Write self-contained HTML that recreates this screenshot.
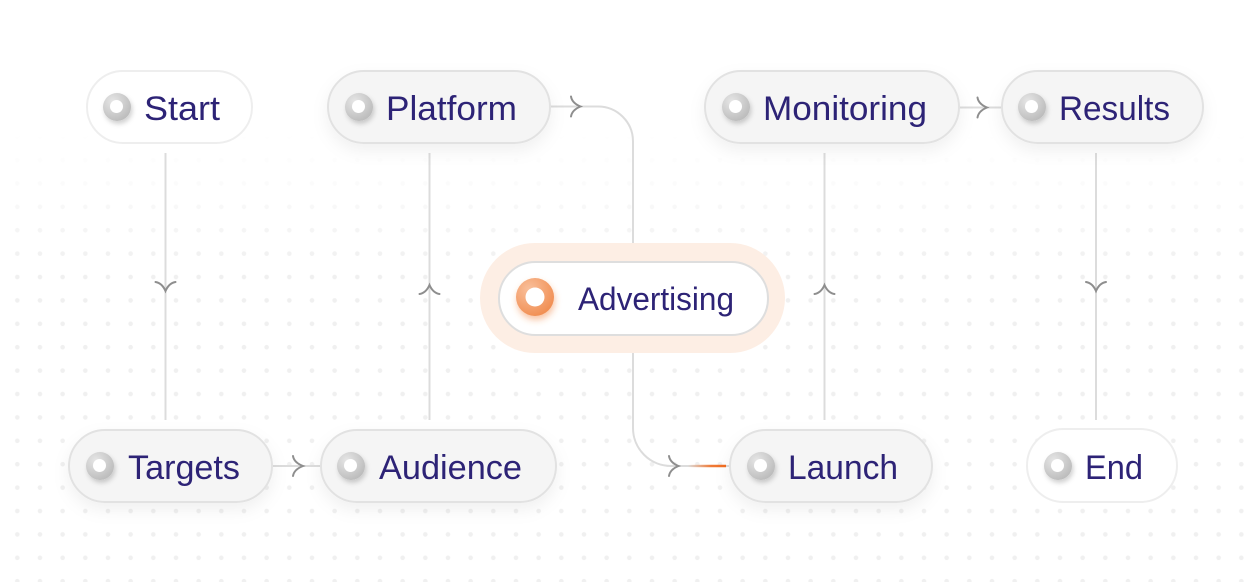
<!DOCTYPE html>
<html>
<head>
<meta charset="utf-8">
<style>
  html, body { margin:0; padding:0; background:#ffffff; }
  body { width:1257px; height:582px; overflow:hidden; }
  svg { display:block; }
  text { font-family: "Liberation Sans", "DejaVu Sans", sans-serif; fill:#2d2376; }
</style>
</head>
<body>
<svg width="1257" height="582" viewBox="0 0 1257 582" xmlns="http://www.w3.org/2000/svg">
  <defs>
    <pattern id="dots" x="0" y="0" width="22.667" height="23.4" patternUnits="userSpaceOnUse">
      <circle cx="17.3" cy="19.6" r="2.3" fill="#f0f0f0"/>
    </pattern>
    <linearGradient id="fadeV" x1="0" y1="0" x2="0" y2="1" gradientUnits="objectBoundingBox">
      <stop offset="0" stop-color="#fff" stop-opacity="0"/>
      <stop offset="0.12" stop-color="#fff" stop-opacity="0.25"/>
      <stop offset="0.3" stop-color="#fff" stop-opacity="1"/>
      <stop offset="1" stop-color="#fff" stop-opacity="1"/>
    </linearGradient>
    <mask id="dotMask" maskUnits="userSpaceOnUse" x="0" y="0" width="1257" height="582">
      <rect x="0" y="130" width="1257" height="452" fill="url(#fadeV)"/>
    </mask>
    <filter id="pillShadow" x="-20%" y="-40%" width="140%" height="200%">
      <feDropShadow dx="0" dy="7" stdDeviation="8" flood-color="#000" flood-opacity="0.06"/>
    </filter>
    <filter id="iconShadow" x="-60%" y="-60%" width="220%" height="220%">
      <feDropShadow dx="1.5" dy="3" stdDeviation="2.5" flood-color="#000" flood-opacity="0.18"/>
    </filter>
    <filter id="orangeShadow" x="-80%" y="-80%" width="260%" height="260%">
      <feDropShadow dx="1" dy="4" stdDeviation="3.5" flood-color="#f07a35" flood-opacity="0.45"/>
    </filter>
    <radialGradient id="grayIcon" cx="0.35" cy="0.3" r="0.8">
      <stop offset="0" stop-color="#e6e6e6"/>
      <stop offset="1" stop-color="#b8b8b8"/>
    </radialGradient>
    <radialGradient id="orangeIcon" cx="0.35" cy="0.3" r="0.8">
      <stop offset="0" stop-color="#f9c09c"/>
      <stop offset="1" stop-color="#f08a4c"/>
    </radialGradient>
    <linearGradient id="orangeLine" x1="688" y1="0" x2="726" y2="0" gradientUnits="userSpaceOnUse">
      <stop offset="0" stop-color="#f26b1d" stop-opacity="0"/>
      <stop offset="0.6" stop-color="#f26b1d" stop-opacity="0.85"/>
      <stop offset="1" stop-color="#f26b1d" stop-opacity="1"/>
    </linearGradient>
  </defs>

  <!-- dotted background -->
  <rect x="0" y="0" width="1257" height="582" fill="url(#dots)" mask="url(#dotMask)"/>

  <!-- connectors -->
  <g fill="none" stroke="#dcdcdc" stroke-width="2">
    <line x1="165.5" y1="153" x2="165.5" y2="420"/>
    <line x1="429.5" y1="153" x2="429.5" y2="420"/>
    <line x1="824.5" y1="153" x2="824.5" y2="420"/>
    <line x1="1096" y1="153" x2="1096" y2="420"/>
    <line x1="272" y1="466" x2="320" y2="466"/>
    <line x1="959" y1="107.5" x2="1001" y2="107.5"/>
    <path d="M550 106.5 H598 A35 35 0 0 1 633 141.5 V243"/>
    <path d="M633 335 V428 A38 38 0 0 0 671 466 H729"/>
  </g>
  <line x1="688" y1="466" x2="726" y2="466" stroke="url(#orangeLine)" stroke-width="2.5"/>

  <!-- chevrons -->
  <g fill="none" stroke="#8e8e8e" stroke-width="2" stroke-linecap="round">
    <path d="M155.5 282 Q162 283 165.5 291 Q169 283 175.5 282"/>
    <path d="M1086 282 Q1092.5 283 1096 291 Q1099.5 283 1106 282"/>
    <path d="M419.5 294 Q426 293 429.5 285 Q433 293 439.5 294"/>
    <path d="M814.5 294 Q821 293 824.5 285 Q828 293 834.5 294"/>
    <path d="M293 456 Q294 462.5 303 466 Q294 469.5 293 476"/>
    <path d="M571 96.5 Q572 103 580.5 106.5 Q572 110 571 116.5"/>
    <path d="M669 456 Q670 462.5 678.5 466 Q670 469.5 669 476"/>
    <path d="M977.5 97.5 Q978.5 104 987 107.5 Q978.5 111 977.5 117.5"/>
  </g>

  <!-- Advertising halo -->
  <rect x="480" y="243" width="305" height="110" rx="55" ry="55" fill="#fdeee4"/>

  <!-- pills -->
  <g stroke-width="2">
    <rect x="87" y="71" width="165" height="72" rx="36" fill="#ffffff" stroke="#eeeeee"/>
    <rect x="328" y="71" width="222" height="72" rx="36" fill="#f5f5f5" stroke="#e2e2e2" filter="url(#pillShadow)"/>
    <rect x="705" y="71" width="254" height="72" rx="36" fill="#f5f5f5" stroke="#e2e2e2" filter="url(#pillShadow)"/>
    <rect x="1002" y="71" width="201" height="72" rx="36" fill="#f5f5f5" stroke="#e2e2e2" filter="url(#pillShadow)"/>
    <rect x="499" y="262" width="269" height="73" rx="36.5" fill="#ffffff" stroke="#dedede"/>
    <rect x="69" y="430" width="203" height="72" rx="36" fill="#f5f5f5" stroke="#e2e2e2" filter="url(#pillShadow)"/>
    <rect x="321" y="430" width="235" height="72" rx="36" fill="#f5f5f5" stroke="#e2e2e2" filter="url(#pillShadow)"/>
    <rect x="730" y="430" width="202" height="72" rx="36" fill="#f5f5f5" stroke="#e2e2e2" filter="url(#pillShadow)"/>
    <rect x="1027" y="429" width="150" height="73" rx="36.5" fill="#ffffff" stroke="#eeeeee"/>
  </g>

  <!-- icons -->
  <g filter="url(#iconShadow)">
    <circle cx="117" cy="107" r="14" fill="url(#grayIcon)"/>
    <circle cx="359" cy="107" r="14" fill="url(#grayIcon)"/>
    <circle cx="736" cy="107" r="14" fill="url(#grayIcon)"/>
    <circle cx="1032" cy="107" r="14" fill="url(#grayIcon)"/>
    <circle cx="100" cy="466" r="14" fill="url(#grayIcon)"/>
    <circle cx="351" cy="466" r="14" fill="url(#grayIcon)"/>
    <circle cx="761" cy="466" r="14" fill="url(#grayIcon)"/>
    <circle cx="1058" cy="466" r="14" fill="url(#grayIcon)"/>
  </g>
  <g fill="#ffffff">
    <circle cx="116.5" cy="106.5" r="6.5"/>
    <circle cx="358.5" cy="106.5" r="6.5"/>
    <circle cx="735.5" cy="106.5" r="6.5"/>
    <circle cx="1031.5" cy="106.5" r="6.5"/>
    <circle cx="99.5" cy="465.5" r="6.5"/>
    <circle cx="350.5" cy="465.5" r="6.5"/>
    <circle cx="760.5" cy="465.5" r="6.5"/>
    <circle cx="1057.5" cy="465.5" r="6.5"/>
  </g>
  <circle cx="535" cy="297" r="19" fill="url(#orangeIcon)" filter="url(#orangeShadow)"/>
  <circle cx="535" cy="297" r="9.5" fill="#ffffff"/>

  <!-- labels -->
  <g font-size="34">
    <text x="144" y="120" textLength="76" lengthAdjust="spacingAndGlyphs">Start</text>
    <text x="386" y="120" textLength="131" lengthAdjust="spacingAndGlyphs">Platform</text>
    <text x="763" y="120" textLength="164" lengthAdjust="spacingAndGlyphs">Monitoring</text>
    <text x="1059" y="120" textLength="111" lengthAdjust="spacingAndGlyphs">Results</text>
    <text x="128" y="479" textLength="112" lengthAdjust="spacingAndGlyphs">Targets</text>
    <text x="379" y="479" textLength="143" lengthAdjust="spacingAndGlyphs">Audience</text>
    <text x="788" y="479" textLength="110" lengthAdjust="spacingAndGlyphs">Launch</text>
    <text x="1085" y="479" textLength="58" lengthAdjust="spacingAndGlyphs">End</text>
  </g>
  <text x="578" y="310" font-size="32" textLength="156" lengthAdjust="spacingAndGlyphs">Advertising</text>
</svg>
</body>
</html>
